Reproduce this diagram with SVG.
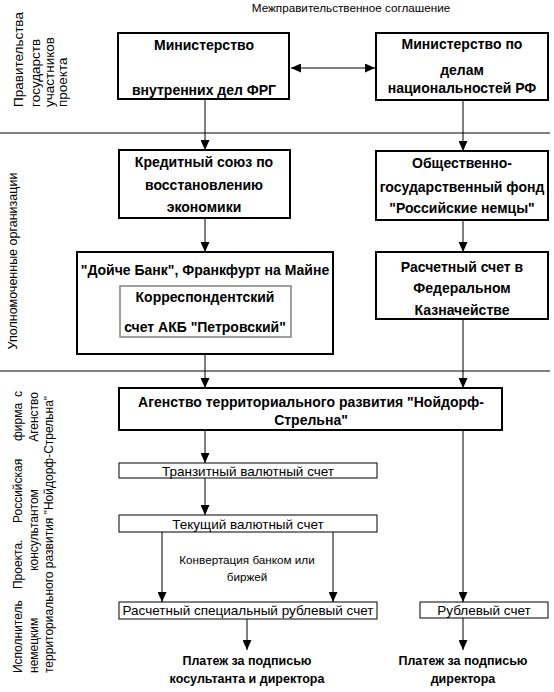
<svg xmlns="http://www.w3.org/2000/svg" width="554" height="692" viewBox="0 0 554 692">
<defs>
<marker id="ah" viewBox="0 0 10 9" refX="10" refY="4.5" markerWidth="10" markerHeight="9" markerUnits="userSpaceOnUse" orient="auto-start-reverse">
<path d="M0,0 L10,4.5 L0,9 z" fill="#000"/>
</marker>
<style>
.big{fill:#fff;stroke:#000;stroke-width:2}
.small{fill:#fff;stroke:#000;stroke-width:1}
.inner{fill:#fff;stroke:#808080;stroke-width:1.5}
.b{font-family:"Liberation Sans",Arial,sans-serif;font-weight:bold;font-size:14px;text-anchor:middle;fill:#000}
.p{font-family:"Liberation Sans",Arial,sans-serif;font-weight:bold;font-size:12.5px;text-anchor:middle;fill:#000}
.r{font-family:"Liberation Sans",Arial,sans-serif;font-size:13.5px;text-anchor:middle;fill:#000}
.s{font-family:"Liberation Sans",Arial,sans-serif;font-size:11.7px;text-anchor:middle;fill:#000}
.side{font-family:"Liberation Sans",Arial,sans-serif;font-size:12px;fill:#000}
.sideT{font-family:"Liberation Sans",Arial,sans-serif;font-size:13.5px;fill:#000}
.c{stroke:#000;stroke-width:1;fill:none;marker-end:url(#ah)}
.sep{stroke:#000;stroke-width:1}
</style>
</defs>

<g id="separators">
<line class="sep" x1="0" y1="133" x2="550" y2="133"/>
<line class="sep" x1="0" y1="371" x2="550" y2="371"/>
</g>

<g id="side-labels">
<g transform="rotate(-90)">
<text class="sideT" x="-107" y="23">Правительства</text>
<text class="sideT" x="-107" y="40">государств</text>
<text class="sideT" x="-107" y="54">участников</text>
<text class="sideT" x="-107" y="67">проекта</text>
<text class="side" x="-261" y="17" text-anchor="middle" style="font-size:12.5px">Уполномоченные организации</text>
<text class="side" x="-673" y="22">Исполнитель</text>
<text class="side" x="-589" y="22">Проекта.</text>
<text class="side" x="-523" y="22">Российская</text>
<text class="side" x="-441" y="22">фирма</text>
<text class="side" x="-391" y="22" text-anchor="end">с</text>
<text class="side" x="-673" y="38">немецким</text>
<text class="side" x="-530" y="38" text-anchor="middle">консультантом</text>
<text class="side" x="-392" y="38" text-anchor="end">Агенство</text>
<text class="side" x="-673" y="53">территориального развития "Нойдорф-Стрельна"</text>
</g>
</g>

<g id="agreement-label">
<text class="s" x="351" y="12">Межправительственное соглашение</text>
</g>

<g id="connectors">
<line class="c" x1="291" y1="68" x2="375" y2="68" stroke="#404040" style="marker-start:url(#ah)"/>
<line class="c" x1="205" y1="100" x2="205" y2="150"/>
<line class="c" x1="463" y1="101" x2="463" y2="151"/>
<line class="c" x1="205" y1="219" x2="205" y2="252"/>
<line class="c" x1="463" y1="221" x2="463" y2="252"/>
<line class="c" x1="205" y1="355" x2="205" y2="388"/>
<line class="c" x1="463" y1="320" x2="463" y2="388"/>
<line class="c" x1="205" y1="431" x2="205" y2="463"/>
<line class="c" x1="205" y1="478" x2="205" y2="515"/>
<line class="c" x1="162" y1="532" x2="162" y2="602"/>
<line class="c" x1="333" y1="532" x2="333" y2="602"/>
<line class="c" x1="463" y1="431" x2="463" y2="602"/>
<line class="c" x1="247" y1="619" x2="247" y2="650"/>
<line class="c" x1="463" y1="618" x2="463" y2="650"/>
</g>

<g id="n-mvd">
<rect class="big" x="118" y="33" width="171" height="66"/>
<text class="b" x="204" y="50">Министерство</text>
<text class="b" x="204" y="95">внутренних дел ФРГ</text>
</g>

<g id="n-mdn">
<rect class="big" x="376" y="33" width="172" height="67"/>
<text class="b" x="462" y="49">Министерство по</text>
<text class="b" x="462" y="75">делам</text>
<text class="b" x="462" y="93">национальностей РФ</text>
</g>

<g id="n-credit">
<rect class="big" x="119" y="150" width="171" height="68"/>
<text class="b" x="204" y="167">Кредитный союз по</text>
<text class="b" x="204" y="190">восстановлению</text>
<text class="b" x="204" y="212">экономики</text>
</g>

<g id="n-fund">
<rect class="big" x="376" y="151" width="172" height="69"/>
<text class="b" x="462" y="168">Общественно-</text>
<text class="b" x="462" y="192">государственный фонд</text>
<text class="b" x="462" y="213">"Российские немцы"</text>
</g>

<g id="n-deutsche">
<rect class="big" x="77" y="252" width="256" height="102"/>
<text class="b" x="205" y="275">"Дойче Банк", Франкфурт на Майне</text>
<rect class="inner" x="120" y="286" width="171" height="51"/>
<text class="b" x="205" y="302">Корреспондентский</text>
<text class="b" x="205" y="332">счет АКБ "Петровский"</text>
</g>

<g id="n-treasury">
<rect class="big" x="376" y="252" width="172" height="67"/>
<text class="b" x="462" y="272">Расчетный счет в</text>
<text class="b" x="462" y="293">Федеральном</text>
<text class="b" x="462" y="315">Казначействе</text>
</g>

<g id="n-agency">
<rect class="big" x="119" y="388" width="383" height="42"/>
<text class="b" x="311" y="407">Агенство территориального развития "Нойдорф-</text>
<text class="b" x="311" y="425">Стрельна"</text>
</g>

<g id="n-transit">
<rect class="small" x="119" y="463" width="258" height="15"/>
<text class="r" x="248" y="476">Транзитный валютный счет</text>
</g>

<g id="n-current">
<rect class="small" x="119" y="515" width="258" height="17"/>
<text class="r" x="248" y="529">Текущий валютный счет</text>
</g>

<g id="conv-label">
<text class="s" x="247" y="564">Конвертация банком или</text>
<text class="s" x="247" y="581">биржей</text>
</g>

<g id="n-special">
<rect class="small" x="119" y="602" width="258" height="17"/>
<text class="r" x="248" y="615">Расчетный специальный рублевый счет</text>
</g>

<g id="n-rub">
<rect class="small" x="420" y="602" width="128" height="16"/>
<text class="r" x="484" y="615">Рублевый счет</text>
</g>

<g id="pay1">
<text class="p" x="247" y="665">Платеж за подписью</text>
<text class="p" x="247" y="683">косультанта и директора</text>
</g>

<g id="pay2">
<text class="p" x="463" y="665">Платеж за подписью</text>
<text class="p" x="463" y="683">директора</text>
</g>
</svg>
